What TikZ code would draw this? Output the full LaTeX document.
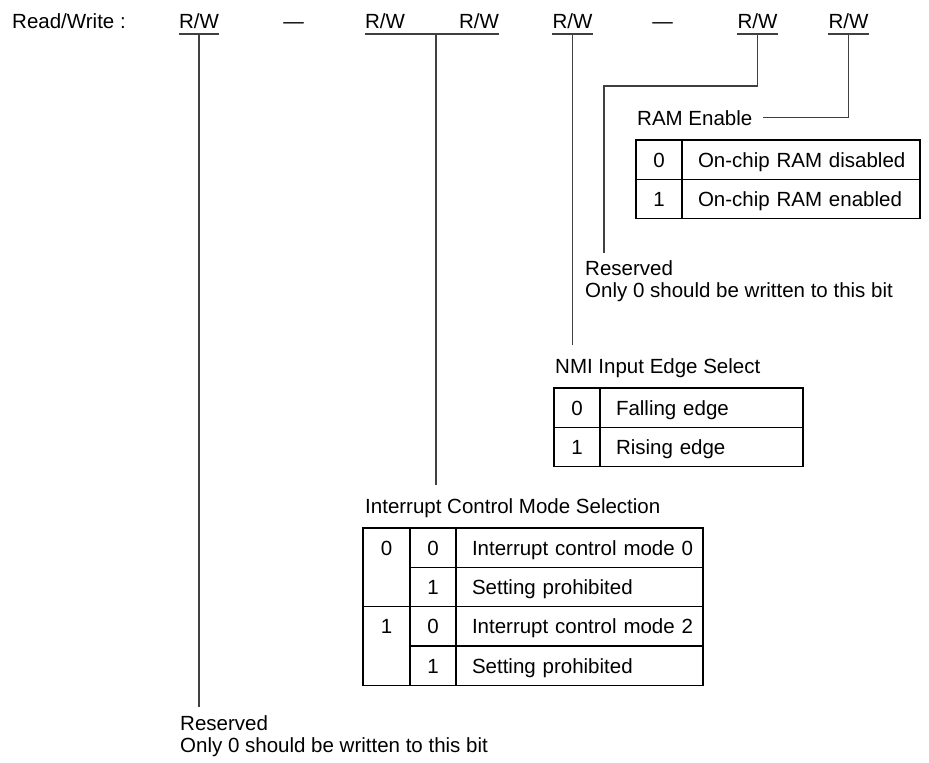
\documentclass[tikz,border=0pt]{standalone}
\usepackage{fontspec}
\setmainfont{Liberation Sans}
\usetikzlibrary{positioning}

\begin{document}
\begin{tikzpicture}[
    x=1pt, y=-1pt,
    font=\fontsize{20.5}{22}\selectfont,
    fieldname/.style={
        anchor=base west,
        inner sep=0pt
    },
    bitlabel/.style={
        anchor=base,
        inner sep=0pt
    },
    digit/.style={
        inner sep=0pt,
        text height=15pt,
        text depth=0pt
    },
    numcell/.style={
        rectangle,
        draw,
        line width=1.3pt,
        outer sep=0pt,
        inner sep=0pt,
        minimum width=46pt,
        minimum height=39.3pt,
        text height=15pt,
        text depth=0pt
    },
    desccell/.style={
        numcell,
        align=left,
        inner xsep=0pt,
        text width=#1,
        execute at begin node=\hspace*{16pt}
    },
    link/.style={
        line width=1.1pt,
        draw=black!75
    }
]

\useasboundingbox (0,0) rectangle (929,763);

% ------------------------------------------------
% Register bits
% ------------------------------------------------

\node[fieldname] (rwtitle) at (12,28) {Read/Write :};

\node[bitlabel] (rw7) at (199,28) {R/W};
\node[bitlabel] (rw6) at (293.5,28) {\textemdash};
\node[bitlabel] (rw5) at (385,28) {R/W};
\node[bitlabel] (rw4) at (479,28) {R/W};
\node[bitlabel] (rw3) at (572.5,28) {R/W};
\node[bitlabel] (rw2) at (662.5,28) {\textemdash};
\node[bitlabel] (rw1) at (757.5,28) {R/W};
\node[bitlabel] (rw0) at (848.5,28) {R/W};

\draw[link] ([yshift=-6pt]rw7.base west) -- ([yshift=-6pt]rw7.base east);
\draw[link] ([yshift=-6pt]rw5.base west) -- ([yshift=-6pt]rw4.base east);
\draw[link] ([yshift=-6pt]rw3.base west) -- ([yshift=-6pt]rw3.base east);
\draw[link] ([yshift=-6pt]rw1.base west) -- ([yshift=-6pt]rw1.base east);
\draw[link] ([yshift=-6pt]rw0.base west) -- ([yshift=-6pt]rw0.base east);

% ------------------------------------------------
% RAM Enable
% ------------------------------------------------

\node[fieldname] (ramtitle) at (637,125) {RAM Enable};

\node[numcell, anchor=north west] (ram0) at (636,140) {0};
\node[desccell=238pt, right=0pt of ram0] (ram0txt) {On-chip RAM disabled};
\node[numcell, below=0pt of ram0] (ram1) {1};
\node[desccell=238pt, right=0pt of ram1] (ram1txt) {On-chip RAM enabled};

% ------------------------------------------------
% Reserved (upper)
% ------------------------------------------------

\node[fieldname] (resv1) at (585,275) {Reserved};
\node[fieldname] (only1) at (585,297) {Only 0 should be written to this bit};

\coordinate (bend1) at (604,86);
\coordinate (end1) at (604,253);

% ------------------------------------------------
% NMI Input Edge Select
% ------------------------------------------------

\node[fieldname] (nmititle) at (555,373) {NMI Input Edge Select};

\node[numcell, anchor=north west] (nmi0) at (554,388) {0};
\node[desccell=203pt, right=0pt of nmi0] (nmi0txt) {Falling edge};
\node[numcell, below=0pt of nmi0] (nmi1) {1};
\node[desccell=203pt, right=0pt of nmi1] (nmi1txt) {Rising edge};

\coordinate (end3) at (572.5,345);

% ------------------------------------------------
% Interrupt Control Mode Selection
% ------------------------------------------------

\node[fieldname] (icmtitle) at (365,513) {Interrupt Control Mode Selection};

\node[numcell, anchor=north west] (ic00) at (410,528) {0};
\node[desccell=247pt, right=0pt of ic00] (ic00txt) {Interrupt control mode 0};
\node[numcell, below=0pt of ic00] (ic01) {1};
\node[desccell=247pt, right=0pt of ic01] (ic01txt) {Setting prohibited};
\node[numcell, below=0pt of ic01] (ic10) {0};
\node[desccell=247pt, right=0pt of ic10] (ic10txt) {Interrupt control mode 2};
\node[numcell, below=0pt of ic10] (ic11) {1};
\node[desccell=247pt, right=0pt of ic11] (ic11txt) {Setting prohibited};

\node[numcell, minimum width=47pt, minimum height=78.6pt, anchor=north east] (icm0) at (ic00.north west) {};
\node[numcell, minimum width=47pt, minimum height=78.6pt, anchor=north east] (icm1) at (ic10.north west) {};
\node[digit] (icm0txt) at (icm0.center |- ic00) {0};
\node[digit] (icm1txt) at (icm1.center |- ic10) {1};

\coordinate (split54) at (436,34);
\coordinate (end54) at (436,485);

% ------------------------------------------------
% Reserved (lower)
% ------------------------------------------------

\node[fieldname] (resv7) at (180,730) {Reserved};
\node[fieldname] (only7) at (180,752) {Only 0 should be written to this bit};

\coordinate (end7) at (199,707);

% ------------------------------------------------
% Connectors
% ------------------------------------------------

\draw[link] ([yshift=-6pt]rw7.base) -- (end7);
\draw[link] (split54) -- (end54);
\draw[link] ([yshift=-6pt]rw3.base) -- (end3);
\draw[link] ([yshift=-6pt]rw1.base) |- (bend1) -- (end1);
\draw[link] ([xshift=11pt]ramtitle.east) -| ([yshift=-6pt]rw0.base);

\end{tikzpicture}
\end{document}
